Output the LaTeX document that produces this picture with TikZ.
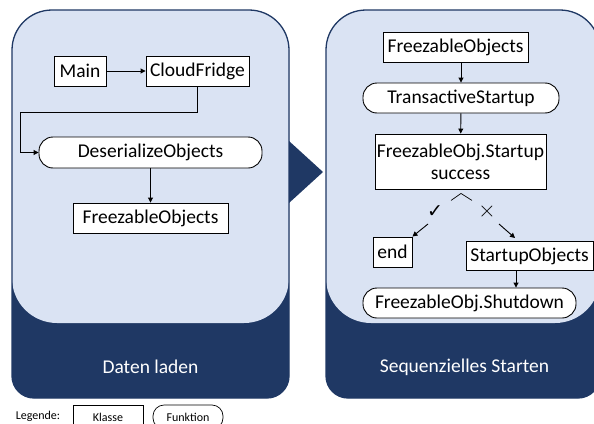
\documentclass[tikz,border=0pt]{standalone}
\usepackage{fontspec}
\setmainfont{Carlito}
\newfontfamily\symfont{DejaVu Sans}
\newfontfamily\crossfont{Latin Modern Roman}
\usetikzlibrary{arrows.meta,calc}
\definecolor{pdark}{RGB}{31,56,100}
\definecolor{plight}{RGB}{218,227,243}
\begin{document}
\begin{tikzpicture}[x=1pt,y=-1pt,
  base/.style={draw=black,line width=0.9pt,fill=white,inner sep=0pt,align=center,
    font=\fontsize{19.5}{22}\selectfont},
  klasse/.style={base},
  funktion/.style={base,rounded corners=14pt},
  arr/.style={draw=black,line width=0.9pt,-{Triangle[length=5pt,width=5pt]}},
  paneltitle/.style={text=white,font=\fontsize{19.5}{22}\selectfont},
  legtext/.style={font=\fontsize{12}{14}\selectfont},
  legbox/.style={draw=black,line width=0.7pt,fill=white,inner sep=0pt,font=\fontsize{12}{14}\selectfont}
]
\useasboundingbox (0,0) rectangle (594,423);
\begin{scope}
\clip (0,0) rectangle (594,423);
% left panel
\fill[pdark] (12,200) [rounded corners=40pt] -- (12,10) -- (289,10) -- (289,200) [rounded corners=22pt] -- (289,398) -- (12,398) -- cycle;
\fill[plight] (12,200) [rounded corners=40pt] -- (12,10) -- (289,10) -- (289,200) [rounded corners=45pt] -- (289,323) -- (12,323) -- cycle;
\draw[pdark,line width=1.3pt] (12,200) [rounded corners=40pt] -- (12,10) -- (289,10) -- (289,200) [rounded corners=22pt] -- (289,398) -- (12,398) -- cycle;
% right panel
\fill[pdark] (326,200) [rounded corners=40pt] -- (326,10) -- (600,10) -- (600,200) [rounded corners=22pt] -- (600,398) -- (326,398) -- cycle;
\fill[plight] (326,200) [rounded corners=40pt] -- (326,10) -- (600,10) -- (600,200) [rounded corners=45pt] -- (600,323) -- (326,323) -- cycle;
\draw[pdark,line width=1.3pt] (326,200) [rounded corners=40pt] -- (326,10) -- (600,10) -- (600,200) [rounded corners=22pt] -- (600,398) -- (326,398) -- cycle;
% chevron
\fill[pdark] (289,141) -- (323,172) -- (289,203) -- cycle;
\end{scope}

% left panel nodes
\node[klasse,minimum width=52pt,minimum height=30pt] (main) at (80,71) {Main};
\node[klasse,minimum width=103pt,minimum height=30pt] (cloud) at (197.5,71) {CloudFridge};
\node[funktion,minimum width=223pt,minimum height=31pt] (deser) at (150.5,152.5) {DeserializeObjects};
\node[klasse,minimum width=155pt,minimum height=30pt] (freezL) at (150.5,218) {FreezableObjects};
\coordinate (k1) at (20,112);
\draw[arr] (main) -- (cloud);
\draw[arr] (cloud.south) |- (k1) |- (deser.west);
\draw[arr] (deser) -- (freezL);
\node[paneltitle] (t1) at (150.5,367) {Daten laden};

% right panel nodes
\node[klasse,minimum width=145pt,minimum height=30pt] (freezR) at (455.5,47) {FreezableObjects};
\node[funktion,minimum width=196pt,minimum height=30pt] (trans) at (461,98) {TransactiveStartup};
\node[klasse,minimum width=171pt,minimum height=55pt] (fss) at (460.5,161.5) {FreezableObj.Startup\\success};
\node[klasse,minimum width=39pt,minimum height=30pt] (endn) at (392.5,252) {end};
\node[klasse,minimum width=127pt,minimum height=29pt] (startup) at (529.5,256) {StartupObjects};
\node[funktion,minimum width=213pt,minimum height=30pt] (shut) at (469.5,303) {FreezableObj.Shutdown};
\draw[arr] (freezR.south -| trans.north) -- (trans.north);
\draw[arr] (trans) -- (fss);
\draw[line width=0.7pt] ($(fss.south)+(-9.5,11)$) -- ($(fss.south)+(0.5,4)$) -- ($(fss.south)+(11.5,11)$);
\node[inner sep=0pt,font=\symfont\fontsize{19}{19}\selectfont] (ck) at (435,212) {✓};
\node[inner sep=0pt,font=\crossfont\fontsize{24}{24}\selectfont] (cx) at (487,212) {×};
\coordinate (a1) at (428,224);
\coordinate (a2) at (499,224);
\coordinate (b2) at (515,238);
\draw[arr] (a1) -- (endn.north east);
\draw[arr] (a2) -- (b2);
\coordinate (s1) at ($(startup.south)+(-13.5,0)$);
\draw[arr] (s1) -- (s1 |- shut.north);
\node[paneltitle] (t2) at (464.5,367) {Sequenzielles Starten};

% legend
\node[legtext] (leg) at (38,416) {Legende:};
\node[legbox,minimum width=70pt,minimum height=24pt] (lk) at (108,417) {Klasse};
\node[legbox,rounded corners=11pt,minimum width=70pt,minimum height=24pt] (lf) at (188,417) {Funktion};
\end{tikzpicture}
\end{document}
